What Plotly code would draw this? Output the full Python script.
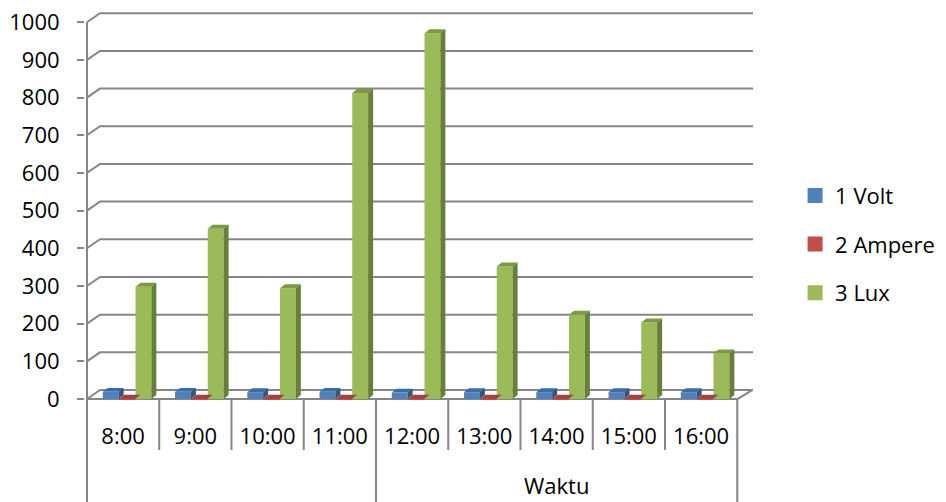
import plotly.graph_objects as go

# ---------------- data ----------------
hours = ["8:00", "9:00", "10:00", "11:00", "12:00", "13:00", "14:00", "15:00", "16:00"]
volt = [19, 19, 18, 19, 17, 18, 18, 18, 18]
ampere = [1, 1, 1, 1, 1, 1, 1, 1, 1]
lux = [298, 452, 294, 812, 971, 352, 224, 203, 121]
series_names = ["1 Volt", "2 Ampere", "3 Lux"]
y_ticks = [0, 100, 200, 300, 400, 500, 600, 700, 800, 900, 1000]
group_title = "Waktu"

# ---------------- style / geometry ----------------
FRONT = ["#4F81BD", "#C0504D", "#9BBB59"]
TOP = ["#3D6BA4", "#A5403D", "#7C9943"]
SIDE = ["#2F5585", "#84302E", "#66803A"]
GRAY = "#868686"
FONT = "Open Sans"
FS = 22

W, H = 946, 502
L, R, T, B = 85, 187, 6, 101
plot_w = W - L - R
plot_h = H - T - B
CAT_PX = 72.9            # pixels per category
PX_PER_UNIT = 0.3797     # pixels per value unit
x_lo = -0.5 - 2 / CAT_PX
x_hi = x_lo + plot_w / CAT_PX
y_lo = -2 / PX_PER_UNIT
y_hi = y_lo + plot_h / PX_PER_UNIT

BAR_PX = 16
BAR_W = BAR_PX / CAT_PX
LEFT_PX = [-20.5, -4.0, 12.5]        # bar left edge relative to category centre (px)
DX, DY = 5, 4                         # bar depth (px)
DY_U = DY / PX_PER_UNIT
WALL_DX, WALL_DY = 13, 9              # back wall offset (px)
n = len(hours)
xs = list(range(n))
series = [volt, ampere, lux]

fig = go.Figure()
shapes = []

# back wall grid lines (drawn at the value positions)
for v in y_ticks:
    shapes.append(dict(type="path", xref="x", yref="y", xsizemode="pixel", ysizemode="pixel",
                       xanchor=-0.5, yanchor=v,
                       path=f"M0,0 L{WALL_DX},{WALL_DY} L{plot_w - 3},{WALL_DY}",
                       line=dict(color=GRAY, width=2), layer="below"))
# floor front edge and right edge
shapes.append(dict(type="line", xref="x", yref="y", x0=-0.5, x1=n - 0.5, y0=0, y1=0,
                   line=dict(color=GRAY, width=2), layer="below"))
shapes.append(dict(type="path", xref="x", yref="y", xsizemode="pixel", ysizemode="pixel",
                   xanchor=n - 0.5, yanchor=0, path=f"M0,0 L{WALL_DX + 2},{WALL_DY}",
                   line=dict(color=GRAY, width=2), layer="below"))
# value axis line
shapes.append(dict(type="line", xref="x", yref="y", x0=-0.5, x1=-0.5, y0=0, y1=y_ticks[-1],
                   line=dict(color=GRAY, width=2), layer="below"))
# category dividers below the floor
for b in range(n + 1):
    edge = b - 0.5
    long = b in (0, 4, n)
    shapes.append(dict(type="line", xref="x", yref="paper", ysizemode="pixel", yanchor=0,
                       x0=edge, x1=edge, y0=2, y1=-(B + 2) if long else -49,
                       line=dict(color=GRAY, width=2), layer="below"))

# bars (front faces) + 3D top and side faces
for k, vals in enumerate(series):
    off = LEFT_PX[k] / CAT_PX
    fig.add_trace(go.Bar(x=xs, y=vals, width=BAR_W, offset=off, name=series_names[k],
                         marker=dict(color=FRONT[k], line=dict(width=0)),
                         showlegend=False, hoverinfo="skip"))
for i in range(n):
    for k, vals in enumerate(series):
        v = vals[i]
        left = xs[i] + LEFT_PX[k] / CAT_PX
        right = left + BAR_W
        shapes.append(dict(type="path", xref="x", yref="y", xsizemode="pixel", xanchor=left,
                           path=f"M0,{v} L{BAR_PX},{v} L{BAR_PX + DX},{v + DY_U} L{DX},{v + DY_U} Z",
                           fillcolor=TOP[k], line=dict(width=0), layer="above"))
        shapes.append(dict(type="path", xref="x", yref="y", xsizemode="pixel", xanchor=right,
                           path=f"M0,0 L{DX},{DY_U} L{DX},{v + DY_U} L0,{v} Z",
                           fillcolor=SIDE[k], line=dict(width=0), layer="above"))

# legend proxies
for k in range(3):
    fig.add_trace(go.Scatter(x=[None], y=[None], mode="markers", name=series_names[k],
                             legendgroup=str(k),
                             marker=dict(symbol="square", size=15, color=FRONT[k])))

fig.update_layout(
    width=W, height=H,
    margin=dict(l=L, r=R, t=T, b=B),
    paper_bgcolor="white", plot_bgcolor="white",
    barmode="overlay",
    font=dict(family=FONT, size=FS, color="black"),
    shapes=shapes,
    showlegend=True,
    legend=dict(x=1.063, y=0.40, xanchor="left", yanchor="middle",
                traceorder="grouped", tracegroupgap=17,
                font=dict(family=FONT, size=FS, color="black"),
                bgcolor="rgba(0,0,0,0)"),
    annotations=[dict(text=group_title, x=(3.5 + n - 0.5) / 2, y=0, xref="x", yref="paper",
                      yanchor="middle", yshift=-84, showarrow=False,
                      font=dict(family=FONT, size=FS, color="black"))],
)
fig.update_xaxes(range=[x_lo, x_hi], tickmode="array", tickvals=xs, ticktext=hours,
                 ticks="", showgrid=False, zeroline=False, showline=False,
                 ticklabelstandoff=20, fixedrange=True)
fig.update_yaxes(range=[y_lo, y_hi], tickmode="array", tickvals=y_ticks,
                 ticks="outside", ticklen=7, tickwidth=2, tickcolor=GRAY,
                 showgrid=False, zeroline=False, showline=False,
                 ticklabelstandoff=13, fixedrange=True)

fig.write_html("out.html", config={"displayModeBar": False},
               post_script="document.body.style.margin='0';document.body.style.overflow='hidden';")
